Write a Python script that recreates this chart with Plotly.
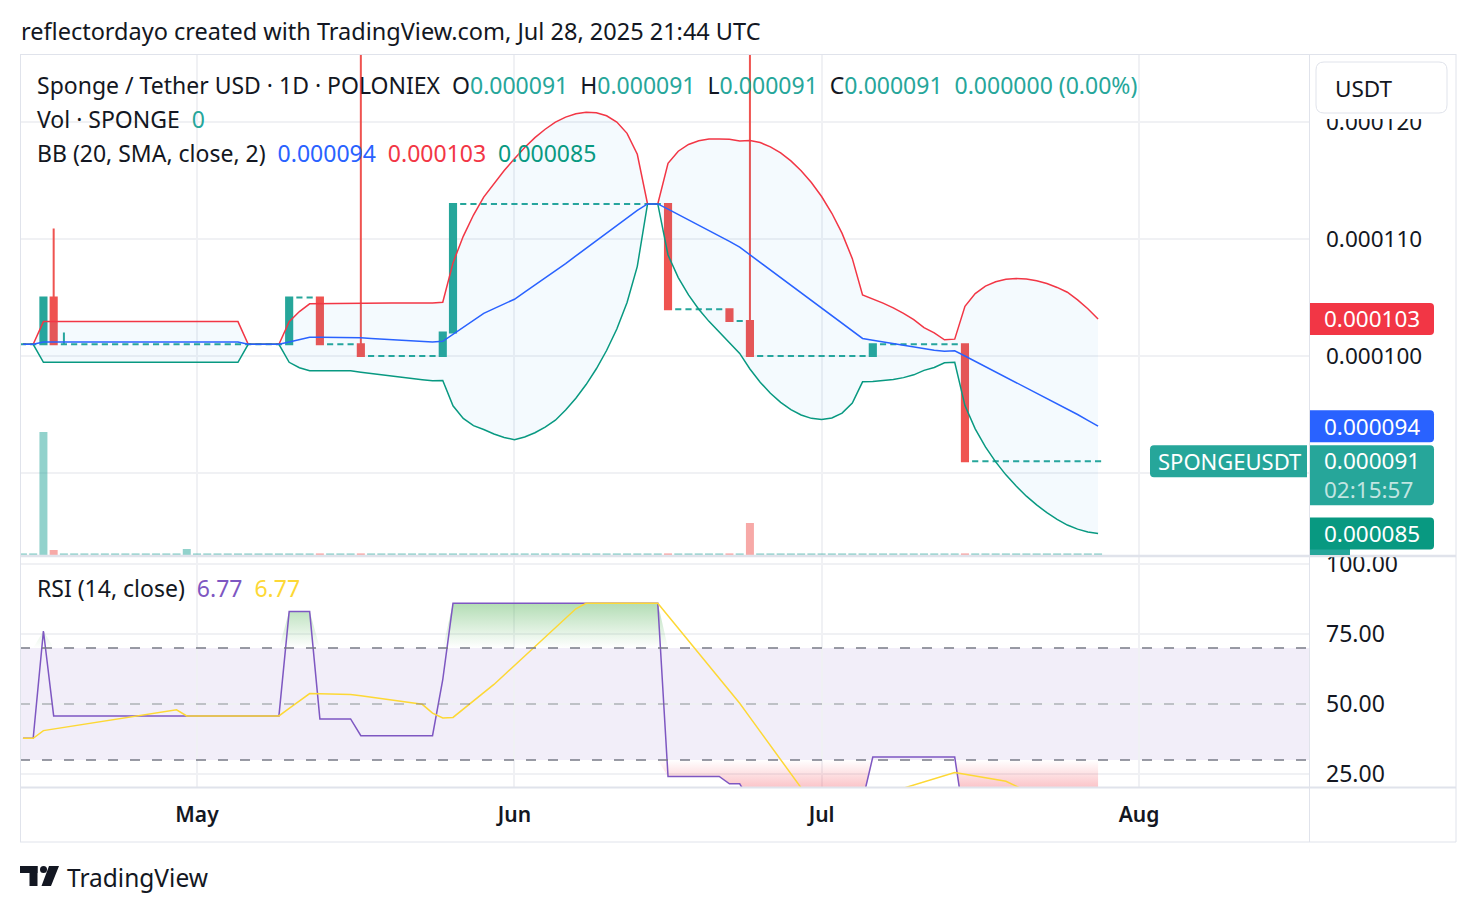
import pandas as pd
import plotly.graph_objects as go

# ---------------- data (prices in micro-USDT, i.e. x 1e-6) ----------------
DATES = pd.date_range("2025-04-14", "2025-07-28", freq="D")

OPEN = [
    # Apr 14-30
    101, 101, 101, 105, 101, 101, 101, 101, 101, 101, 101, 101, 101, 101, 101, 101, 101,
    # May
    101, 101, 101, 101, 101, 101, 101, 101, 101, 101, 105, 105, 105, 101, 101, 101, 101,
    100, 100, 100, 100, 100, 100, 100, 100, 102, 113, 113, 113, 113, 113,
    # Jun
    113, 113, 113, 113, 113, 113, 113, 113, 113, 113, 113, 113, 113, 113, 113, 113,
    104, 104, 104, 104, 104, 104, 103, 103, 100, 100, 100, 100, 100, 100,
    # Jul 1-28
    100, 100, 100, 100, 100, 100, 101, 101, 101, 101, 101, 101, 101, 101, 101,
    91, 91, 91, 91, 91, 91, 91, 91, 91, 91, 91, 91, 91,
]
HIGH = [
    101, 101, 105, 110.9, 102, 101, 101, 101, 101, 101, 101, 101, 101, 101, 101, 101, 101,
    101, 101, 101, 101, 101, 101, 101, 101, 101, 105, 105, 105, 105, 101, 101, 101, 140,
    100, 100, 100, 100, 100, 100, 100, 102, 113, 113, 113, 113, 113, 113,
    113, 113, 113, 113, 113, 113, 113, 113, 113, 113, 113, 113, 113, 113, 113, 113,
    104, 104, 104, 104, 104, 104, 103, 140, 100, 100, 100, 100, 100, 100,
    100, 100, 100, 100, 100, 101, 101, 101, 101, 101, 101, 101, 101, 101, 101,
    91, 91, 91, 91, 91, 91, 91, 91, 91, 91, 91, 91, 91,
]
LOW = [
    101, 101, 101, 101, 101, 101, 101, 101, 101, 101, 101, 101, 101, 101, 101, 101, 101,
    101, 101, 101, 101, 101, 101, 101, 101, 101, 101, 105, 105, 101, 101, 101, 101,
    100, 100, 100, 100, 100, 100, 100, 100, 100, 102, 113, 113, 113, 113, 113,
    113, 113, 113, 113, 113, 113, 113, 113, 113, 113, 113, 113, 113, 113, 113,
    104, 104, 104, 104, 104, 104, 103, 103, 100, 100, 100, 100, 100, 100, 100,
    100, 100, 100, 100, 100, 100, 101, 101, 101, 101, 101, 101, 101, 101,
    91, 91, 91, 91, 91, 91, 91, 91, 91, 91, 91, 91, 91, 91,
]
CLOSE = [
    101, 101, 105, 101, 101, 101, 101, 101, 101, 101, 101, 101, 101, 101, 101, 101, 101,
    101, 101, 101, 101, 101, 101, 101, 101, 101, 105, 105, 105, 101, 101, 101, 101,
    100, 100, 100, 100, 100, 100, 100, 100, 102, 113, 113, 113, 113, 113, 113,
    113, 113, 113, 113, 113, 113, 113, 113, 113, 113, 113, 113, 113, 113, 113,
    104, 104, 104, 104, 104, 104, 103, 103, 100, 100, 100, 100, 100, 100, 100,
    100, 100, 100, 100, 100, 101, 101, 101, 101, 101, 101, 101, 101, 101,
    91, 91, 91, 91, 91, 91, 91, 91, 91, 91, 91, 91, 91, 91,
]
# volume, relative units (zero-volume days drawn as thin bars)
VOLUME = [
    1.6, 1.6, 123, 5, 1.6, 1.6, 1.6, 1.6, 1.6, 1.6, 1.6, 1.6, 1.6, 1.6, 1.6, 1.6, 6,
    1.6, 1.6, 1.6, 1.6, 1.6, 1.6, 1.6, 1.6, 1.6, 1.6, 1.6, 1.6, 1.6, 1.6, 1.6, 1.6,
    1.6, 1.6, 1.6, 1.6, 1.6, 1.6, 1.6, 1.6, 1.6, 1.6, 1.6, 1.6, 1.6, 1.6, 1.6,
    1.6, 1.6, 1.6, 1.6, 1.6, 1.6, 1.6, 1.6, 1.6, 1.6, 1.6, 1.6, 1.6, 1.6, 1.6,
    1.6, 1.6, 1.6, 1.6, 1.6, 1.6, 1.6, 1.6, 32, 1.6, 1.6, 1.6, 1.6, 1.6, 1.6,
    1.6, 1.6, 1.6, 1.6, 1.6, 1.6, 1.6, 1.6, 1.6, 1.6, 1.6, 1.6, 1.6, 1.6,
    1.6, 1.6, 1.6, 1.6, 1.6, 1.6, 1.6, 1.6, 1.6, 1.6, 1.6, 1.6, 1.6, 1.6,
]
BB_UPPER = [
    101.00, 101.00, 102.94, 102.94, 102.94, 102.94, 102.94, 102.94, 102.94, 102.94, 102.94, 102.94, 102.94, 102.94, 102.94, 102.94, 102.94, 102.94,
    102.94, 102.94, 102.94, 102.94, 101.00, 101.00, 101.00, 101.00, 102.94, 103.80, 104.46, 104.46, 104.46, 104.46, 104.46, 104.48, 104.50, 104.51,
    104.52, 104.53, 104.53, 104.53, 104.52, 104.59, 107.96, 110.23, 112.05, 113.58, 114.77, 115.86, 116.85, 117.82, 118.66, 119.38, 119.99, 120.42,
    120.71, 120.84, 120.79, 120.53, 119.99, 119.03, 117.24, 113.00, 113.00, 116.47, 117.50, 118.08, 118.40, 118.54, 118.55, 118.53, 118.38, 118.41,
    118.24, 117.88, 117.36, 116.68, 115.84, 114.83, 113.63, 112.20, 110.48, 108.32, 105.21, 104.89, 104.52, 104.11, 103.65, 103.11, 102.43, 101.98,
    101.38, 101.44, 104.24, 105.33, 105.97, 106.35, 106.56, 106.62, 106.58, 106.43, 106.19, 105.86, 105.45, 104.80, 104.04, 103.17,
]
BB_BASIS = [
    101.00, 101.00, 101.20, 101.20, 101.20, 101.20, 101.20, 101.20, 101.20, 101.20, 101.20, 101.20, 101.20, 101.20, 101.20, 101.20, 101.20, 101.20,
    101.20, 101.20, 101.20, 101.20, 101.00, 101.00, 101.00, 101.00, 101.20, 101.40, 101.60, 101.60, 101.60, 101.60, 101.60, 101.55, 101.50, 101.45,
    101.40, 101.35, 101.30, 101.25, 101.20, 101.25, 101.85, 102.45, 103.05, 103.65, 104.05, 104.45, 104.85, 105.45, 106.05, 106.65, 107.25, 107.90,
    108.55, 109.20, 109.85, 110.50, 111.15, 111.80, 112.45, 113.00, 113.00, 112.55, 112.10, 111.65, 111.20, 110.75, 110.30, 109.80, 109.30, 108.65,
    108.00, 107.35, 106.70, 106.05, 105.40, 104.75, 104.10, 103.45, 102.80, 102.15, 101.50, 101.35, 101.20, 101.05, 100.90, 100.75, 100.60, 100.50,
    100.40, 100.45, 100.00, 99.55, 99.10, 98.65, 98.20, 97.75, 97.30, 96.85, 96.40, 95.95, 95.50, 95.00, 94.50, 94.00,
]
BB_LOWER = [
    101.00, 101.00, 99.46, 99.46, 99.46, 99.46, 99.46, 99.46, 99.46, 99.46, 99.46, 99.46, 99.46, 99.46, 99.46, 99.46, 99.46, 99.46,
    99.46, 99.46, 99.46, 99.46, 101.00, 101.00, 101.00, 101.00, 99.46, 99.00, 98.74, 98.74, 98.74, 98.74, 98.74, 98.62, 98.50, 98.39,
    98.28, 98.17, 98.07, 97.97, 97.88, 97.91, 95.74, 94.67, 94.05, 93.72, 93.33, 93.04, 92.85, 93.08, 93.44, 93.92, 94.51, 95.38,
    96.39, 97.56, 98.91, 100.47, 102.31, 104.57, 107.66, 113.00, 113.00, 108.63, 106.70, 105.22, 104.00, 102.96, 102.05, 101.07, 100.22, 98.89,
    97.76, 96.82, 96.04, 95.42, 94.96, 94.67, 94.57, 94.70, 95.12, 95.98, 97.79, 97.81, 97.88, 97.99, 98.15, 98.39, 98.77, 99.02,
    99.42, 99.46, 95.76, 93.77, 92.23, 90.95, 89.84, 88.88, 88.02, 87.27, 86.61, 86.04, 85.55, 85.20, 84.96, 84.83,
]
RSI = [
    37.75, 37.75, 76.07, 45.74, 45.74, 45.74, 45.74, 45.74, 45.74, 45.74, 45.74, 45.74, 45.74, 45.74, 45.74, 45.74, 45.74, 45.74,
    45.74, 45.74, 45.74, 45.74, 45.74, 45.74, 45.74, 45.74, 83.00, 83.00, 83.00, 44.68, 44.68, 44.68, 44.68, 38.68, 38.68, 38.68,
    38.68, 38.68, 38.68, 38.68, 38.68, 58.74, 85.96, 85.96, 85.96, 85.96, 85.96, 85.96, 85.96, 85.96, 85.96, 85.96, 85.96, 85.96,
    85.96, 85.96, 85.96, 85.96, 85.96, 85.96, 85.96, 85.96, 85.96, 24.15, 24.15, 24.15, 24.15, 24.15, 24.15, 21.48, 21.48, 15.50,
    15.50, 15.50, 15.50, 15.50, 15.50, 15.50, 15.50, 15.50, 15.50, 15.50, 15.50, 31.06, 31.06, 31.06, 31.06, 31.06, 31.06, 31.06,
    31.06, 31.06, 6.77, 6.77, 6.77, 6.77, 6.77, 6.77, 6.77, 6.77, 6.77, 6.77, 6.77, 6.77, 6.77, 6.77,
]
RSI_MA = [
    37.75, 37.75, 40.49, 41.06, 41.63, 42.20, 42.77, 43.34, 43.91, 44.48, 45.06, 45.63, 46.20, 46.77, 47.34, 47.91, 45.74, 45.74,
    45.74, 45.74, 45.74, 45.74, 45.74, 45.74, 45.74, 45.74, 48.41, 51.07, 53.73, 53.65, 53.58, 53.50, 53.42, 52.92, 52.41, 51.91,
    51.40, 50.90, 50.40, 49.89, 46.72, 44.99, 45.20, 48.15, 51.10, 54.05, 56.99, 60.37, 63.75, 67.13, 70.50, 73.88, 77.26, 80.63,
    84.01, 85.96, 85.96, 85.96, 85.96, 85.96, 85.96, 85.96, 85.96, 81.54, 77.13, 72.71, 68.30, 63.88, 59.47, 54.86, 50.26, 45.23,
    40.19, 35.16, 30.13, 25.10, 20.06, 19.44, 18.83, 18.21, 17.59, 16.97, 16.35, 17.04, 17.72, 18.84, 19.95, 21.06, 22.17, 23.28,
    24.39, 25.50, 24.88, 24.26, 23.63, 23.01, 22.39, 20.65, 18.92, 17.18, 15.45, 13.71, 11.98, 10.24, 8.51, 6.77,
]
RSI_UPPER_BAND, RSI_MID_BAND, RSI_LOWER_BAND = 70, 50, 30
PRICE_TICKS = [90, 100, 110, 120]
PRICE_TICKS_HIDDEN = [90]          # label covered by the last-price tag in the reference
RSI_TICKS = [25, 50, 75, 100]
MONTH_TICKS = ["2025-05-01", "2025-06-01", "2025-07-01", "2025-08-01"]
MONTH_LABELS = ["May", "Jun", "Jul", "Aug"]
COUNTDOWN = "02:15:57"

U = 1e-6  # micro-USDT -> USDT
up = [v * U for v in BB_UPPER]; mid = [v * U for v in BB_BASIS]; lo = [v * U for v in BB_LOWER]

# ---------------- styling ----------------
FONT = "Noto Sans"
TXT = "#131722"
GREEN = "#26a69a"; RED = "#ef5350"
BORDER = "#e0e3eb"; GRID = "#f0f1f4"

W, H = 1476, 912
L_M, R_M, T_M, B_M = 20, 167, 55, 125
PW, PH = W - L_M - R_M, H - T_M - B_M


def X(px):
    return (px - L_M) / PW


def Y(py):
    return (H - B_M - py) / PH


fig = go.Figure()

is_up = [cc >= oo for oo, cc in zip(OPEN, CLOSE)]
vol_colors = ["rgba(38,166,154,0.5)" if u_ else "rgba(239,83,80,0.5)" for u_ in is_up]
fig.add_trace(go.Bar(x=DATES, y=VOLUME, marker=dict(color=vol_colors, line=dict(width=0)),
                     width=0.78 * 86400000, xaxis="x", yaxis="y3", hoverinfo="skip"))

fig.add_trace(go.Scatter(x=DATES, y=up, mode="lines", line=dict(color="#f23645", width=1.5),
                         xaxis="x", yaxis="y", hoverinfo="skip"))
fig.add_trace(go.Scatter(x=DATES, y=lo, mode="lines", line=dict(color="#089981", width=1.5),
                         fill="tonexty", fillcolor="rgba(33,150,243,0.05)", xaxis="x", yaxis="y", hoverinfo="skip"))
fig.add_trace(go.Scatter(x=DATES, y=mid, mode="lines", line=dict(color="#2962ff", width=1.5),
                         xaxis="x", yaxis="y", hoverinfo="skip"))

# candles: TradingView colours a bar green when close >= open, red otherwise
for want_up, col in [(True, GREEN), (False, RED)]:
    idx = [i for i, u_ in enumerate(is_up) if u_ == want_up]
    fig.add_trace(go.Candlestick(
        x=[DATES[i] for i in idx], open=[OPEN[i] * U for i in idx], high=[HIGH[i] * U for i in idx],
        low=[LOW[i] * U for i in idx], close=[CLOSE[i] * U for i in idx], xaxis="x", yaxis="y",
        increasing=dict(line=dict(color=col, width=2), fillcolor=col),
        decreasing=dict(line=dict(color=col, width=2), fillcolor=col),
        whiskerwidth=0, hoverinfo="skip"))

# RSI pane
ob_fill = [max(v, RSI_UPPER_BAND) for v in RSI]
os_fill = [min(v, RSI_LOWER_BAND) for v in RSI]
fig.add_trace(go.Scatter(x=DATES, y=[RSI_UPPER_BAND] * len(DATES), mode="lines", line=dict(width=0),
                         xaxis="x2", yaxis="y2", hoverinfo="skip"))
fig.add_trace(go.Scatter(x=DATES, y=ob_fill, mode="lines", line=dict(width=0), fill="tonexty",
                         fillgradient=dict(type="vertical", start=70, stop=100,
                                           colorscale=[[0, "rgba(76,175,80,0)"], [1, "rgba(76,175,80,0.8)"]]),
                         xaxis="x2", yaxis="y2", hoverinfo="skip"))
fig.add_trace(go.Scatter(x=DATES, y=[RSI_LOWER_BAND] * len(DATES), mode="lines", line=dict(width=0),
                         xaxis="x2", yaxis="y2", hoverinfo="skip"))
fig.add_trace(go.Scatter(x=DATES, y=os_fill, mode="lines", line=dict(width=0), fill="tonexty",
                         fillgradient=dict(type="vertical", start=0, stop=30,
                                           colorscale=[[0, "rgba(242,54,69,0.9)"], [1, "rgba(242,54,69,0)"]]),
                         xaxis="x2", yaxis="y2", hoverinfo="skip"))
fig.add_trace(go.Scatter(x=DATES, y=RSI, mode="lines", line=dict(color="#7e57c2", width=1.5),
                         xaxis="x2", yaxis="y2", hoverinfo="skip"))
fig.add_trace(go.Scatter(x=DATES, y=RSI_MA, mode="lines", line=dict(color="#fdd835", width=1.5),
                         xaxis="x2", yaxis="y2", hoverinfo="skip"))

x_range = ["2025-04-13 17:05", "2025-08-17 14:25"]
main_lo = 0.31694
rsi_hi = 0.31421
price_ticktext = ["" if v in PRICE_TICKS_HIDDEN else f"{v * U:.6f}" for v in PRICE_TICKS]

fig.update_layout(
    width=W, height=H, margin=dict(l=L_M, r=R_M, t=T_M, b=B_M),
    paper_bgcolor="white", plot_bgcolor="white", showlegend=False,
    boxmode="overlay", boxgap=0, boxgroupgap=0.4,
    xaxis=dict(domain=[0, 1], anchor="y", range=x_range, type="date", showticklabels=False,
               tickvals=MONTH_TICKS, showgrid=True, gridcolor=GRID, gridwidth=1.5, zeroline=False,
               rangeslider=dict(visible=False), showline=False, ticks=""),
    xaxis2=dict(domain=[0, 1], anchor="y2", range=x_range, type="date", tickvals=MONTH_TICKS,
                ticktext=MONTH_LABELS, showgrid=True, gridcolor=GRID, gridwidth=1.5, zeroline=False,
                ticks="", ticklabelstandoff=13,
                tickfont=dict(family=FONT, size=21, color=TXT, weight=600)),
    yaxis=dict(domain=[main_lo, 1], anchor="x", side="right", range=[82.991e-6, 125.726e-6],
               tickvals=[v * U for v in PRICE_TICKS], ticktext=price_ticktext, showgrid=True, gridcolor=GRID,
               gridwidth=1.5, zeroline=False, ticks="", ticklabelstandoff=16,
               tickfont=dict(family=FONT, size=22.5, color=TXT)),
    yaxis2=dict(domain=[0, rsi_hi], anchor="x2", side="right", range=[20.357, 102.5],
                tickvals=RSI_TICKS, tickformat=".2f", showgrid=True, gridcolor=GRID, gridwidth=1.5,
                zeroline=False, ticks="", ticklabelstandoff=16,
                tickfont=dict(family=FONT, size=23, color=TXT)),
    yaxis3=dict(overlaying="y", range=[0, 500], visible=False, showgrid=False),
)

shapes = []
# RSI background band and levels
shapes.append(dict(type="rect", xref="x2 domain", yref="y2", x0=0, x1=1, y0=RSI_LOWER_BAND, y1=RSI_UPPER_BAND,
                   fillcolor="rgba(126,87,194,0.1)", line=dict(width=0), layer="below"))
for lvl, col in [(RSI_UPPER_BAND, "#787b86"), (RSI_MID_BAND, "rgba(120,123,134,0.55)"), (RSI_LOWER_BAND, "#787b86")]:
    shapes.append(dict(type="line", xref="x2 domain", yref="y2", x0=0, x1=1, y0=lvl, y1=lvl,
                       line=dict(color=col, width=1.5, dash="10px,12px"), layer="above"))


def line_px(x0, y0, x1, y1, w=1.0, col=BORDER):
    return dict(type="line", xref="paper", yref="paper", x0=X(x0), y0=Y(y0), x1=X(x1), y1=Y(y1),
                line=dict(color=col, width=w), layer="above")


shapes += [
    line_px(20, 54.5, 1456, 54.5), line_px(20.5, 54, 20.5, 842), line_px(1456, 54, 1456, 842),
    line_px(20, 842, 1456, 842), line_px(1309.5, 54, 1309.5, 842),
    line_px(20, 556, 1456, 556, 2.5), line_px(20, 787.5, 1456, 787.5, 2),
]


def rrect(px0, py0, px1, py1, r):
    return (f"M{X(px0 + r)},{Y(py0)} L{X(px1 - r)},{Y(py0)} Q{X(px1)},{Y(py0)} {X(px1)},{Y(py0 + r)} "
            f"L{X(px1)},{Y(py1 - r)} Q{X(px1)},{Y(py1)} {X(px1 - r)},{Y(py1)} L{X(px0 + r)},{Y(py1)} "
            f"Q{X(px0)},{Y(py1)} {X(px0)},{Y(py1 - r)} L{X(px0)},{Y(py0 + r)} Q{X(px0)},{Y(py0)} {X(px0 + r)},{Y(py0)} Z")


# white cover + USDT box on the price scale
shapes.append(dict(type="rect", xref="paper", yref="paper", x0=X(1310.5), x1=X(1455), y0=Y(119), y1=Y(55.5),
                   fillcolor="white", line=dict(width=0), layer="above"))
shapes.append(dict(type="path", xref="paper", yref="paper", path=rrect(1316, 62, 1447, 113, 8),
                   fillcolor="white", line=dict(color=BORDER, width=1), layer="above"))
# small volume tag peeking below the main pane
shapes.append(dict(type="rect", xref="paper", yref="paper", x0=X(1310), x1=X(1350), y0=Y(555), y1=Y(549),
                   fillcolor=GREEN, line=dict(width=0), layer="above"))


def tag_path(x0, x1, top, bot, r=4, round_right=True):
    if round_right:
        return (f"M{x0},{top} L{x1 - r},{top} Q{x1},{top} {x1},{top - r} L{x1},{bot + r} "
                f"Q{x1},{bot} {x1 - r},{bot} L{x0},{bot} Z")
    return (f"M{x1},{top} L{x0 + r},{top} Q{x0},{top} {x0},{top - r} L{x0},{bot + r} "
            f"Q{x0},{bot} {x0 + r},{bot} L{x1},{bot} Z")


annotations = []
tags = [
    (BB_UPPER[-1], "#f23645", 16, -16, True),
    (BB_BASIS[-1], "#2962ff", 16, -16, True),
    (CLOSE[-1], GREEN, 16, -44, False),
    (BB_LOWER[-1], "#089981", 16, -16, True),
]
for val, col, top, bot, single in tags:
    shapes.append(dict(type="path", xref="paper", yref="y", xsizemode="pixel", ysizemode="pixel",
                       xanchor=1, yanchor=val * U, path=tag_path(1, 125, top, bot),
                       fillcolor=col, line=dict(width=0), layer="above"))
    if single:
        annotations.append(dict(x=1, xref="paper", y=val * U, yref="y", xshift=63, text=f"{val * U:.6f}",
                                showarrow=False, xanchor="center", yanchor="middle",
                                font=dict(family=FONT, size=22.5, color="white")))
# last price tag with countdown (two lines)
annotations.append(dict(x=1, xref="paper", y=CLOSE[-1] * U, yref="y", xshift=63, yshift=-14,
                        text=f"{CLOSE[-1] * U:.6f}<br><span style='color:rgba(255,255,255,0.72)'>{COUNTDOWN}</span>",
                        showarrow=False, xanchor="center", yanchor="middle", align="left",
                        font=dict(family=FONT, size=22.5, color="white")))
# symbol label
shapes.append(dict(type="path", xref="paper", yref="y", xsizemode="pixel", ysizemode="pixel",
                   xanchor=1, yanchor=CLOSE[-1] * U, path=tag_path(-159, -2, 16, -16, round_right=False),
                   fillcolor=GREEN, line=dict(width=0), layer="above"))
annotations.append(dict(x=1, xref="paper", y=CLOSE[-1] * U, yref="y", xshift=-80, text="SPONGEUSDT",
                        showarrow=False, xanchor="center", yanchor="middle",
                        font=dict(family=FONT, size=22, color="white")))
annotations.append(dict(x=X(1333), xref="paper", y=Y(88), yref="paper", text="USDT", showarrow=False,
                        xanchor="left", yanchor="middle", font=dict(family=FONT, size=22.5, color=TXT)))

# TradingView logo
shapes += [
    dict(type="rect", xref="paper", yref="paper", x0=X(20), x1=X(37.5), y0=Y(873), y1=Y(866),
         fillcolor=TXT, line=dict(width=0), layer="above"),
    dict(type="rect", xref="paper", yref="paper", x0=X(29.5), x1=X(37.5), y0=Y(886), y1=Y(866),
         fillcolor=TXT, line=dict(width=0), layer="above"),
    dict(type="circle", xref="paper", yref="paper", x0=X(40), x1=X(47), y0=Y(873), y1=Y(866),
         fillcolor=TXT, line=dict(width=0), layer="above"),
    dict(type="path", xref="paper", yref="paper",
         path=f"M{X(49)},{Y(866)} L{X(59)},{Y(866)} L{X(51)},{Y(886)} L{X(41.5)},{Y(886)} Z",
         fillcolor=TXT, line=dict(width=0), layer="above"),
]
annotations.append(dict(x=X(65), xref="paper", y=Y(877), yref="paper", text="TradingView", showarrow=False,
                        xanchor="left", yanchor="middle", font=dict(family=FONT, size=24.5, color=TXT)))

# title and legends
NB = "\u00a0"


def span(t, col):
    return f'<span style="color:{col}">{t}</span>'


chg = (CLOSE[-1] - OPEN[-1]) * U
pct = (CLOSE[-1] - OPEN[-1]) / OPEN[-1] * 100
line1 = ("Sponge / Tether USD · 1D · POLONIEX" + NB * 2 +
         "O" + span(f"{OPEN[-1] * U:.6f}", GREEN) + NB * 2 +
         "H" + span(f"{HIGH[-1] * U:.6f}", GREEN) + NB * 2 +
         "L" + span(f"{LOW[-1] * U:.6f}", GREEN) + NB * 2 +
         "C" + span(f"{CLOSE[-1] * U:.6f}", GREEN) + NB * 2 +
         span(f"{chg:.6f} ({pct:.2f}%)", GREEN))
line2 = "Vol · SPONGE" + NB * 2 + span("0", GREEN)
line3 = ("BB (20, SMA, close, 2)" + NB * 2 + span(f"{BB_BASIS[-1] * U:.6f}", "#2962ff") + NB * 2 +
         span(f"{BB_UPPER[-1] * U:.6f}", "#f23645") + NB * 2 + span(f"{BB_LOWER[-1] * U:.6f}", "#089981"))
line4 = "RSI (14, close)" + NB * 2 + span(f"{RSI[-1]:.2f}", "#7e57c2") + NB * 2 + span(f"{RSI_MA[-1]:.2f}", "#fdd835")
for txt, px, py in [(line1, 35, 85), (line2, 35, 119), (line3, 35, 153), (line4, 35, 588)]:
    annotations.append(dict(x=X(px), xref="paper", y=Y(py), yref="paper", text=txt, showarrow=False,
                            xanchor="left", yanchor="middle", font=dict(family=FONT, size=23, color=TXT)))
annotations.append(dict(x=X(19), xref="paper", y=Y(31), yref="paper",
                        text="reflectordayo created with TradingView.com, Jul 28, 2025 21:44 UTC",
                        showarrow=False, xanchor="left", yanchor="middle",
                        font=dict(family=FONT, size=23.5, color=TXT)))

fig.update_layout(shapes=shapes, annotations=annotations)
fig.write_html("out.html", config={"displayModeBar": False})
